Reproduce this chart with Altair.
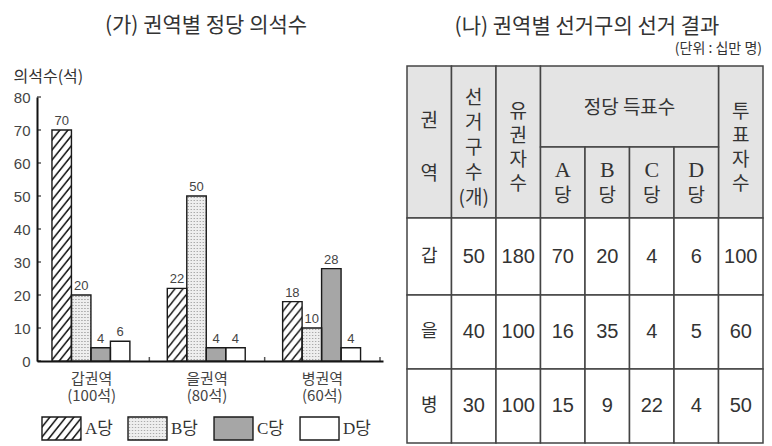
import altair as alt
import pandas as pd
import base64

# ---------------- data ----------------
regions = ["갑권역", "을권역", "병권역"]
region_seats = [100, 80, 60]
parties = ["A", "B", "C", "D"]
party_names = ["A당", "B당", "C당", "D당"]
seats_A = [70, 22, 18]
seats_B = [20, 50, 10]
seats_C = [4, 4, 28]
seats_D = [6, 4, 4]
y_tick_values = [0, 10, 20, 30, 40, 50, 60, 70, 80]

table_regions = ["갑", "을", "병"]
col_districts = [50, 40, 30]
col_voters = [180, 100, 100]
col_votes_A = [70, 16, 15]
col_votes_B = [20, 35, 9]
col_votes_C = [4, 4, 22]
col_votes_D = [6, 5, 4]
col_turnout = [100, 60, 50]

title_left = "(가) 권역별 정당 의석수"
title_right = "(나) 권역별 선거구의 선거 결과"
unit_note = "(단위 : 십만 명)"
y_title = "의석수(석)"
header_vertical = {0: ["권", "역"], 1: ["선", "거", "구", "수", "(개)"], 2: ["유", "권", "자", "수"], 7: ["투", "표", "자", "수"]}
header_merged = "정당 득표수"
header_letters = ["A", "B", "C", "D"]
header_dang = "당"

# ---------------- style ----------------
FONT = "Noto Sans CJK KR"
NUMFONT = "Liberation Sans, Noto Sans CJK KR"
SERIF = "Liberation Serif, Noto Sans CJK KR"
TXT = "#333333"
FILLS = ["#ffffff", "#ececec", "#a6a6a6", "#ffffff"]


def svg_url(svg):
    return "data:image/svg+xml;base64," + base64.b64encode(svg.encode("utf-8")).decode("ascii")


HATCH = svg_url(
    "<svg xmlns='http://www.w3.org/2000/svg'><defs>"
    "<pattern id='h' patternUnits='userSpaceOnUse' width='8' height='10'>"
    "<path d='M-0.8,11 L8.8,-1 M7.2,11 L16.8,-1 M-8.8,11 L0.8,-1' stroke='#111' stroke-width='1.5' fill='none'/>"
    "</pattern></defs><rect width='100%' height='100%' fill='url(#h)'/></svg>"
)
DOTS = svg_url(
    "<svg xmlns='http://www.w3.org/2000/svg'><defs>"
    "<pattern id='d' patternUnits='userSpaceOnUse' width='3' height='3'>"
    "<rect width='3' height='3' fill='#eeeeee'/><rect x='1' y='1' width='1' height='1' fill='#8a8a8a'/>"
    "</pattern></defs><rect width='100%' height='100%' fill='url(#d)'/></svg>"
)

# ---------------- bar chart ----------------
region_labels = [f"{r}|({s}석)" for r, s in zip(regions, region_seats)]
rows = []
for i, lab in enumerate(region_labels):
    for p, vals in zip(parties, [seats_A, seats_B, seats_C, seats_D]):
        rows.append({"region": lab, "party": p, "value": vals[i]})
bars_df = pd.DataFrame(rows)
yt_df = pd.DataFrame({"tick": y_tick_values})
xt_df = pd.DataFrame({"region": region_labels})

W, H = 346, 264

x_scale = alt.Scale(paddingInner=0, paddingOuter=0)
x_axis = alt.Axis(title=None, domainColor="#111", domainWidth=2, ticks=False, grid=False,
                  labelAngle=0, labelExpr="split(datum.label, '|')", labelFont=FONT,
                  labelFontSize=15, labelColor="#444", labelLineHeight=17.5, labelPadding=10,
                  labelOffset=-3)
y_scale = alt.Scale(domain=[0, 80], nice=False)
y_axis = alt.Axis(values=y_tick_values, ticks=False, grid=False, domainColor="#111", domainWidth=2,
                  labelFont=NUMFONT, labelFontSize=15, labelColor="#444", labelPadding=7,
                  title=y_title, titleAngle=0, titleX=-24, titleY=-21, titleAlign="left",
                  titleBaseline="middle", titleFont=FONT, titleFontSize=16,
                  titleFontWeight="normal", titleColor=TXT)

x_enc = alt.X("region:N", sort=region_labels, scale=x_scale, axis=x_axis)
xo_enc = alt.XOffset("party:N", sort=parties,
                     scale=alt.Scale(paddingInner=0, paddingOuter=0.96, align=0.4))
y_enc = alt.Y("value:Q", scale=y_scale, axis=y_axis)

base = alt.Chart(bars_df)
fill_layer = base.mark_bar().encode(
    x=x_enc, xOffset=xo_enc, y=y_enc,
    fill=alt.Fill("party:N", scale=alt.Scale(domain=parties, range=FILLS), legend=None),
)
hatch_layer = base.transform_filter("datum.party == 'A'").mark_image(aspect=False).encode(
    x=x_enc, xOffset=xo_enc, y=y_enc, y2=alt.datum(0), url=alt.value(HATCH)
)
dots_layer = base.transform_filter("datum.party == 'B'").mark_image(aspect=False).encode(
    x=x_enc, xOffset=xo_enc, y=y_enc, y2=alt.datum(0), url=alt.value(DOTS)
)
outline_layer = base.mark_bar(fillOpacity=0, stroke="#1a1a1a", strokeWidth=1.4).encode(
    x=x_enc, xOffset=xo_enc, y=y_enc
)
label_layer = base.mark_text(baseline="bottom", dy=-2, font=NUMFONT, fontSize=13, color="#444").encode(
    x=x_enc, xOffset=xo_enc, y=y_enc, text="value:Q"
)
ytick_layer = alt.Chart(yt_df).mark_tick(orient="horizontal", size=4, thickness=1.5, color="#111").encode(
    x=alt.value(2), y=alt.Y("tick:Q", scale=y_scale, axis=y_axis)
)
xtick_layer = alt.Chart(xt_df).mark_tick(orient="vertical", size=4, thickness=1.5, color="#111",
                                         xOffset=-3).encode(
    x=alt.X("region:N", sort=region_labels, scale=x_scale, axis=x_axis, bandPosition=1),
    y=alt.value(H - 2),
)

bars = alt.layer(fill_layer, hatch_layer, dots_layer, outline_layer, label_layer, ytick_layer, xtick_layer).properties(
    width=W, height=H,
    title=alt.TitleParams(text=title_left, offset=32, frame="group", anchor="middle", dx=-4,
                          fontSize=21, font=FONT, fontWeight="normal", color=TXT),
)

# ---------------- custom legend ----------------
legend_df = pd.DataFrame({"party": parties, "name": party_names})
lx_scale = alt.Scale(paddingInner=0.547, paddingOuter=0.058)
lx = alt.X("party:N", sort=parties, axis=None, scale=lx_scale)
lbase = alt.Chart(legend_df)
leg_fill = lbase.mark_rect().encode(
    x=lx, y=alt.value(0), y2=alt.value(23),
    fill=alt.Fill("party:N", scale=alt.Scale(domain=parties, range=FILLS), legend=None),
)
leg_hatch = lbase.transform_filter("datum.party == 'A'").mark_image(aspect=False).encode(
    x=lx, y=alt.value(0), y2=alt.value(23), url=alt.value(HATCH)
)
leg_dots = lbase.transform_filter("datum.party == 'B'").mark_image(aspect=False).encode(
    x=lx, y=alt.value(0), y2=alt.value(23), url=alt.value(DOTS)
)
leg_outline = lbase.mark_rect(fillOpacity=0, stroke="#1a1a1a", strokeWidth=1.4).encode(
    x=lx, y=alt.value(0), y2=alt.value(23)
)
leg_text = lbase.mark_text(align="left", baseline="middle", dx=4, font=SERIF, fontSize=17, color=TXT).encode(
    x=alt.X("party:N", sort=parties, axis=None, scale=lx_scale, bandPosition=1),
    y=alt.value(11.5), text="name:N",
)
legend = alt.layer(leg_fill, leg_hatch, leg_dots, leg_outline, leg_text).properties(width=307, height=23)

left = alt.vconcat(bars, legend, spacing=12)

# ---------------- table ----------------
ORIGIN_Y = 96  # page y of the plot origin shared by the row
RW = 364
col_w = 44.5
tx0 = 7
cols = [tx0 + col_w * i for i in range(9)]
row_edges_page = [65, 146, 217, 294, 368, 442]
row_edges = [v - ORIGIN_Y for v in row_edges_page]
RH = row_edges[-1]
HDR = "#e4e4e4"

cells = []
for c in [0, 1, 2, 7]:
    cells.append(dict(x0=cols[c], x1=cols[c + 1], y0=row_edges[0], y1=row_edges[2], fill=HDR))
cells.append(dict(x0=cols[3], x1=cols[7], y0=row_edges[0], y1=row_edges[1], fill=HDR))
for c in range(3, 7):
    cells.append(dict(x0=cols[c], x1=cols[c + 1], y0=row_edges[1], y1=row_edges[2], fill=HDR))
for r in range(3):
    for c in range(8):
        cells.append(dict(x0=cols[c], x1=cols[c + 1], y0=row_edges[2 + r], y1=row_edges[3 + r], fill="#ffffff"))
cells_df = pd.DataFrame(cells)

# header text positions (layout, page y)
hdr_rows = []
line_start = {0: 120, 1: 97, 2: 111, 7: 111}
line_step = {0: 53, 1: 25, 2: 24, 7: 24}
for c, chars in header_vertical.items():
    for k, ch in enumerate(chars):
        hdr_rows.append(dict(x=(cols[c] + cols[c + 1]) / 2, y=line_start[c] + line_step[c] * k - ORIGIN_Y, t=ch))
hdr_rows.append(dict(x=(cols[3] + cols[7]) / 2, y=107 - ORIGIN_Y, t=header_merged))
for i in range(4):
    hdr_rows.append(dict(x=(cols[3 + i] + cols[4 + i]) / 2, y=195 - ORIGIN_Y, t=header_dang))
letters_df = pd.DataFrame([dict(x=(cols[3 + i] + cols[4 + i]) / 2, y=169 - ORIGIN_Y, t=L)
                           for i, L in enumerate(header_letters)])
hdr_df = pd.DataFrame(hdr_rows)

row_centers = [(row_edges[2 + r] + row_edges[3 + r]) / 2 for r in range(3)]
num_cols = [col_districts, col_voters, col_votes_A, col_votes_B, col_votes_C, col_votes_D, col_turnout]
num_rows = []
reg_rows = []
for r in range(3):
    reg_rows.append(dict(x=(cols[0] + cols[1]) / 2, y=row_centers[r], t=table_regions[r]))
    for j, colvals in enumerate(num_cols):
        num_rows.append(dict(x=(cols[1 + j] + cols[2 + j]) / 2, y=row_centers[r], t=str(colvals[r])))
num_df = pd.DataFrame(num_rows)
reg_df = pd.DataFrame(reg_rows)
note_df = pd.DataFrame([dict(x=362, y=48 - ORIGIN_Y, t=unit_note)])

tx_scale = alt.Scale(domain=[0, RW], nice=False, zero=False)
ty_scale = alt.Scale(domain=[0, RH], nice=False, zero=False, reverse=True)


def txt(df, **kw):
    return alt.Chart(df).mark_text(baseline="middle", color=TXT, **kw).encode(
        x=alt.X("x:Q", scale=tx_scale, axis=None),
        y=alt.Y("y:Q", scale=ty_scale, axis=None),
        text="t:N",
    )


table_rects = alt.Chart(cells_df).mark_rect(stroke="#444", strokeWidth=1.5).encode(
    x=alt.X("x0:Q", scale=tx_scale, axis=None), x2="x1:Q",
    y=alt.Y("y0:Q", scale=ty_scale, axis=None), y2="y1:Q",
    fill=alt.Fill("fill:N", scale=None),
)

table = alt.layer(
    table_rects,
    txt(hdr_df, align="center", font=FONT, fontSize=19),
    txt(letters_df, align="center", font=SERIF, fontSize=22),
    txt(num_df, align="center", font=NUMFONT, fontSize=20),
    txt(reg_df, align="center", font=FONT, fontSize=18),
    txt(note_df, align="right", font=FONT, fontSize=14),
).properties(
    width=RW, height=RH,
    title=alt.TitleParams(text=title_right, offset=5, frame="group", anchor="middle", dx=5,
                          fontSize=21, font=FONT, fontWeight="normal", color=TXT),
)

chart = alt.hconcat(left, table, spacing=17).properties(
    padding={"left": 5, "top": 7, "right": 0, "bottom": 0}
).configure_view(stroke=None)

chart.save("out.html", embed_options={"renderer": "svg", "actions": False})
